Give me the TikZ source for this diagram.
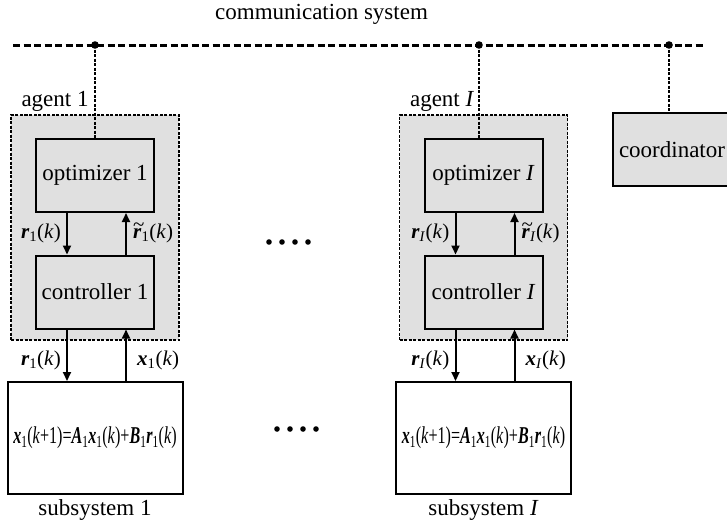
\documentclass[tikz,border=0pt]{standalone}
\usepackage{fontspec}
\setmainfont{Liberation Serif}
\usepackage{graphicx}
\usepackage{tikz}
\usetikzlibrary{arrows.meta}
\definecolor{boxgray}{RGB}{224,224,224}
\newcommand{\bivec}[1]{\textbf{\textit{#1}}}
\newcommand{\sigk}[2]{\bivec{#1}\textsubscript{#2}(\textit{k})}
\newcommand{\sigtk}[2]{\makebox[0pt][l]{\raisebox{0.34em}{\textasciitilde}}\bivec{#1}\textsubscript{#2}(\textit{k})}
\newcommand{\plant}{\bivec{x}\textsubscript{1}(\textit{k}+1)=\bivec{A}\textsubscript{1}\bivec{x}\textsubscript{1}(\textit{k})+\bivec{B}\textsubscript{1}\bivec{r}\textsubscript{1}(\textit{k})}

\begin{document}
\begin{tikzpicture}[x=1pt,y=-1pt,
every node/.style={font=\fontsize{23}{27}\selectfont},
blockbox/.style={draw,line width=2pt,fill=boxgray,minimum width=118pt,minimum height=73pt,inner sep=0pt},
agentbox/.style={draw,line width=1.3pt,dash pattern=on 3pt off 1.5pt,fill=boxgray,minimum width=168pt,minimum height=225pt,inner sep=0pt},
plantbox/.style={draw,line width=2pt,fill=white,minimum width=175pt,minimum height=112pt,inner sep=0pt},
bus/.style={line width=3pt,dash pattern=on 7pt off 3.5pt},
link/.style={line width=1.3pt,dash pattern=on 3pt off 1.5pt},
flow/.style={line width=2pt,-{Triangle[length=9pt,width=8pt]}},
sig/.style={font=\fontsize{21}{24}\selectfont,inner sep=0pt}]
\useasboundingbox (0,0) rectangle (727,528);

%communication bus
\node[anchor=base] (title) at (321.5,19) {communication system};
\coordinate (busL) at (13,45);
\coordinate (busR) at (703,45);
\draw[bus] (busL) -- (busR);

%one column per agent: name/centre/tap/text/subscript
\foreach \i/\x/\d/\t/\s in {1/95/95/1/1, I/483.5/479/{\textit{I}}/{\textit{I}}}{
	\node[agentbox] (agent\i) at (\x,227.5) {};
	\node[anchor=base west] (alab\i) at ({\x-77},106) {agent \t};
	\coordinate (tap\i) at (\d,45);
	\node[blockbox] (opt\i) at (\x,175.5) {optimizer \t};
	\node[blockbox] (ctl\i) at (\x,292) {controller \t};
	\draw[link] (tap\i) -- (tap\i |- opt\i.north);
	\fill (tap\i) circle (3.8pt);
	\node[plantbox] (sub\i) at (\x,438) {\scalebox{0.7}[1.05]{\plant}};
	\node (slab\i) at (\x,510) {subsystem \t};
	%signals between the blocks
	\draw[flow] ([xshift=-28pt]opt\i.south) -- ([xshift=-28pt]ctl\i.north);
	\draw[flow] ([xshift=31pt]ctl\i.north) -- ([xshift=31pt]opt\i.south);
	\draw[flow] ([xshift=-28pt]ctl\i.south) -- ([xshift=-28pt]sub\i.north);
	\draw[flow] ([xshift=31pt]sub\i.north) -- ([xshift=31pt]ctl\i.south);
	\node[sig,anchor=east] (rdown\i) at ({\x-34},233) {\sigk{r}{\s}};
	\node[sig,anchor=west] (rup\i) at ({\x+38},233) {\sigtk{r}{\s}};
	\node[sig,anchor=east] (rout\i) at ({\x-34},360) {\sigk{r}{\s}};
	\node[sig,anchor=west] (xin\i) at ({\x+42},360) {\sigk{x}{\s}};
}

%coordinator
\node[blockbox] (coord) at (672,149.5) {coordinator};
\coordinate (tapC) at (669,45);
\draw[link] (tapC) -- (tapC |- coord.north);
\fill (tapC) circle (3.8pt);

%dots between the agents
\foreach \k in {0,...,3}{
	\fill (269+13*\k,242) circle (2.8pt);
	\fill (277+13*\k,429) circle (2.8pt);
}
\end{tikzpicture}
\end{document}
